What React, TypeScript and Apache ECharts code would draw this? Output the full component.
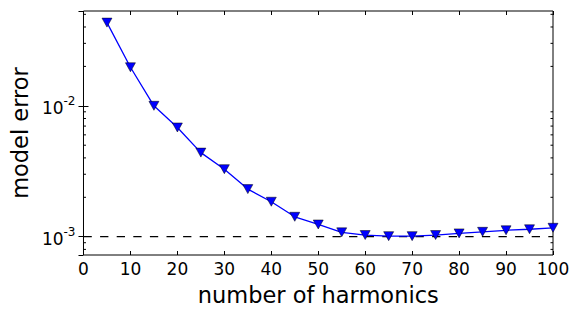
import React, { useEffect, useRef } from "react";
import * as echarts from "echarts";

const harmonics = [5, 10, 15, 20, 25, 30, 35, 40, 45, 50, 55, 60, 65, 70, 75, 80, 85, 90, 95, 100];
const modelError = [
  0.0432, 0.0197, 0.0100, 0.00683, 0.00439, 0.00328, 0.00231, 0.00185, 0.00142, 0.00124,
  0.00108, 0.00103, 0.00101, 0.00101, 0.00103, 0.00106, 0.00109, 0.00112, 0.00114, 0.00117,
];
const referenceLevel = 0.001;
const referenceSpan = [0, 100];
const xTicks = [0, 10, 20, 30, 40, 50, 60, 70, 80, 90, 100];
const minorTickValues = [
  0.0008, 0.0009, 0.002, 0.003, 0.004, 0.005, 0.006, 0.007, 0.008, 0.009, 0.02, 0.03, 0.04, 0.05,
];

const FONT = "DejaVu Sans";

export default function App() {
  const ref = useRef<HTMLDivElement>(null);
  useEffect(() => {
    if (!ref.current) return;
    const chart = echarts.init(ref.current, null, { renderer: "svg" });
    const logFmt = (v: number) => {
      const l = Math.log10(v);
      if (Math.abs(l - Math.round(l)) > 1e-6) return "";
      return `{b|10}{s|${Math.round(l)}}`;
    };
    const yRange = { min: 0.000725, max: 0.053 };
    chart.setOption({
      animation: false,
      backgroundColor: "#ffffff",
      textStyle: { fontFamily: FONT },
      grid: {
        left: 81,
        right: 28,
        top: 11,
        bottom: 63,
        show: true,
        borderColor: "#000",
        borderWidth: 1,
        backgroundColor: "transparent",
      },
      xAxis: [
        {
          type: "value",
          min: 0,
          max: 100,
          interval: 10,
          position: "bottom",
          name: "number of harmonics",
          nameLocation: "middle",
          nameGap: 28,
          nameTextStyle: { fontSize: 22.5, color: "#000", fontFamily: FONT },
          axisLine: { show: false },
          axisTick: { show: true, inside: true, length: 4, lineStyle: { color: "#000", width: 1 } },
          axisLabel: {
            margin: 5,
            fontSize: 17,
            color: "#000",
            fontFamily: FONT,
            formatter: (v: number) => (xTicks.includes(v) ? String(v) : ""),
          },
          splitLine: { show: false },
        },
        {
          type: "value",
          min: 0,
          max: 100,
          interval: 10,
          position: "top",
          axisLine: { show: false },
          axisTick: { show: true, inside: true, length: 4, lineStyle: { color: "#000", width: 1 } },
          axisLabel: { show: false },
          splitLine: { show: false },
        },
      ],
      yAxis: [
        {
          type: "log",
          logBase: 10,
          ...yRange,
          position: "left",
          name: "model error",
          nameLocation: "middle",
          nameGap: 50,
          nameTextStyle: { fontSize: 22.5, color: "#000", fontFamily: FONT },
          axisLine: { show: false },
          axisTick: { show: true, inside: true, length: 5, lineStyle: { color: "#000", width: 1 } },
          axisLabel: {
            margin: 8,
            showMinLabel: false,
            showMaxLabel: false,
            formatter: logFmt,
            rich: {
              b: { fontSize: 17, color: "#000", fontFamily: FONT, lineHeight: 22, verticalAlign: "bottom" },
              s: { fontSize: 12, color: "#000", fontFamily: FONT, lineHeight: 22, verticalAlign: "top" },
            },
          },
          splitLine: { show: false },
        },
        {
          type: "log",
          logBase: 10,
          ...yRange,
          position: "right",
          axisLine: { show: false },
          axisTick: { show: true, inside: true, length: 5, lineStyle: { color: "#000", width: 1 } },
          axisLabel: { show: false },
          splitLine: { show: false },
        },
      ],
      series: [
        {
          type: "custom",
          xAxisIndex: 0,
          yAxisIndex: 0,
          silent: true,
          z: 1,
          data: minorTickValues.map((v) => [0, v]),
          renderItem: (params: any, api: any) => {
            const cs = params.coordSys;
            const y = api.coord([0, api.value(1)])[1];
            const style = { stroke: "#000", lineWidth: 1 };
            return {
              type: "group",
              children: [
                { type: "line", shape: { x1: cs.x, y1: y, x2: cs.x + 2.5, y2: y }, style },
                { type: "line", shape: { x1: cs.x + cs.width - 2.5, y1: y, x2: cs.x + cs.width, y2: y }, style },
              ],
            };
          },
        },
        {
          type: "line",
          xAxisIndex: 0,
          yAxisIndex: 0,
          silent: true,
          z: 2,
          data: referenceSpan.map((x) => [x, referenceLevel]),
          symbol: "none",
          lineStyle: { color: "#000", type: [8.3, 8.3], width: 1.2 },
        },
        {
          type: "line",
          xAxisIndex: 0,
          yAxisIndex: 0,
          data: harmonics.map((h, i) => [h, modelError[i]]),
          lineStyle: { color: "#0000ff", width: 1.3 },
          symbol: "triangle",
          symbolRotate: 180,
          symbolSize: [10, 9],
          itemStyle: { color: "#0000ff", borderColor: "#000", borderWidth: 0.5 },
          z: 3,
        },
      ],
    });
    return () => chart.dispose();
  }, []);
  return (
    <div
      ref={ref}
      style={{ position: "fixed", left: 0, top: 0, width: 581, height: 318, background: "#fff" }}
    />
  );
}
